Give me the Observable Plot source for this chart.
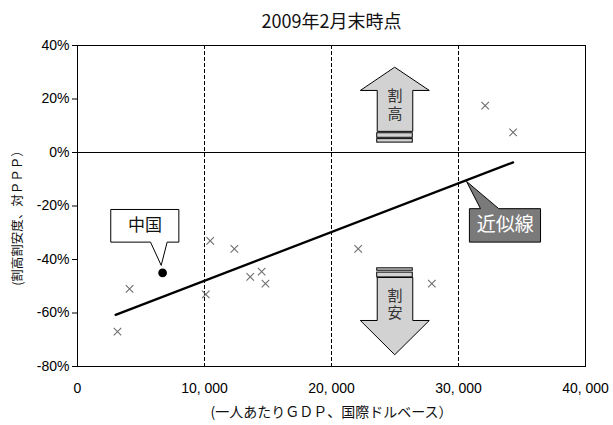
<!DOCTYPE html>
<html>
<head>
<meta charset="utf-8">
<script src="https://cdn.jsdelivr.net/npm/d3@7"></script>
<script src="https://cdn.jsdelivr.net/npm/@observablehq/plot@0.6"></script>
<style>
  body { margin: 0; background: #fff; }
  #chart svg { display: block; }
  #chart text.vertical { writing-mode: vertical-rl; letter-spacing: 2.5px; }
</style>
</head>
<body>
<div id="chart"></div>
<script>
// 一人あたりGDP(国際ドル) と 対PPPでの割高・割安度(%)
const countryGdp = [3150, 4100, 10100, 10450, 12350, 13600, 14500, 14800, 22100, 27900, 32100, 34300];
const countryValuation = [-67, -51, -53, -33, -36, -46.5, -44.5, -49, -36, -49, 17.5, 7.5];

// 中国
const chinaGdp = [6700];
const chinaValuation = [-45];

// 近似線の両端
const trendGdp = [3000, 34300];
const trendValuation = [-60.7, -3.7];

// 軸の目盛り
const xTicks = [0, 10000, 20000, 30000, 40000];
const yTicks = [-80, -60, -40, -20, 0, 20, 40];
const gridX = [10000, 20000, 30000];

// テキスト
const titleText = "2009年2月末時点";
const xLabel = "(一人あたりＧＤＰ、国際ドルベース）";
const yLabel = "(割高割安度、対ＰＰＰ）";
const chinaLabel = "中国";
const trendLabel = "近似線";
const upLabel = "割高";
const downLabel = "割安";

// 矢印と吹き出しの形 (データ座標: x=ドル, y=%)
const upArrow = [[25000, 31.8], [27700, 23.2], [26400, 23.2], [26400, 7.9], [23600, 7.9], [23600, 23.2], [22300, 23.2]];
const upBars = [[7.2, 5.5], [5.0, 3.7]];
const downArrow = [[25000, -75.5], [27700, -62.8], [26400, -62.8], [26400, -46.7], [23600, -46.7], [23600, -62.8], [22300, -62.8]];
const downBars = [[-43.3, -44.2], [-44.9, -46.7]];
const chinaCallout = [[2650, -21.3], [7980, -21.3], [7980, -33.5], [7060, -33.5], [6590, -42.2], [5750, -33.5], [2650, -33.5]];
const trendCallout = [[30890, -21.0], [31730, -21.0], [30630, -10.8], [33170, -21.0], [36460, -21.0], [36460, -33.5], [30890, -33.5]];

const points = countryGdp.map((g, i) => ({gdp: g, val: countryValuation[i]}));
const china = chinaGdp.map((g, i) => ({gdp: g, val: chinaValuation[i]}));
const trend = trendGdp.map((g, i) => ({gdp: g, val: trendValuation[i]}));
const toXY = (arr) => arr.map(([x, y]) => ({x, y}));

const jp = "'Noto Sans CJK JP', sans-serif";
const fmtX = d => d === 0 ? "0" : d3.format(",")(d).replace(",", ", ");

const chart = Plot.plot({
  width: 613,
  height: 425,
  marginLeft: 77,
  marginRight: 28,
  marginTop: 45,
  marginBottom: 59,
  style: {fontFamily: "'Liberation Sans', Arial, sans-serif", fontSize: "14px", color: "#000", background: "#fff"},
  x: {domain: [0, 40000], ticks: xTicks, tickFormat: fmtX, tickSize: 0, tickPadding: 17, label: null},
  y: {domain: [-80, 40], ticks: yTicks, tickFormat: d => d + "%", tickSize: 5, tickPadding: 3, label: null},
  marks: [
    Plot.ruleX(gridX, {stroke: "black", strokeDasharray: "4,2", strokeWidth: 1}),
    Plot.ruleY([0], {stroke: "black", strokeWidth: 1}),
    Plot.frame({stroke: "black", strokeWidth: 1}),
    // 割高の矢印
    Plot.line(toXY(upArrow), {x: "x", y: "y", curve: "linear-closed", fill: "#d2d2d2", stroke: "black", strokeWidth: 1}),
    Plot.rect(upBars, {x1: 23600, x2: 26400, y1: d => d[0], y2: d => d[1], fill: "#d2d2d2", stroke: "black", strokeWidth: 1}),
    Plot.text([upLabel], {x: 25000, y: 17.8, dy: -4, fontFamily: jp, fontSize: 15, fill: "#333"}),
    // 割安の矢印
    Plot.line(toXY(downArrow), {x: "x", y: "y", curve: "linear-closed", fill: "#d2d2d2", stroke: "black", strokeWidth: 1}),
    Plot.rect(downBars, {x1: 23600, x2: 26400, y1: d => d[0], y2: d => d[1], fill: "#d2d2d2", stroke: "black", strokeWidth: 1}),
    Plot.text([downLabel], {x: 25000, y: -56.8, dy: -4, fontFamily: jp, fontSize: 15, fill: "#333"}),
    // 各国
    Plot.dot(points, {x: "gdp", y: "val", symbol: "times", r: 3.5, stroke: "#6e6e6e", strokeWidth: 1.1}),
    // 近似線
    Plot.line(trend, {x: "gdp", y: "val", stroke: "black", strokeWidth: 2.3}),
    // 中国
    Plot.dot(china, {x: "gdp", y: "val", r: 3.6, fill: "black", stroke: "black"}),
    Plot.line(toXY(chinaCallout), {x: "x", y: "y", curve: "linear-closed", fill: "white", stroke: "black", strokeWidth: 1}),
    Plot.text([chinaLabel], {x: 5315, y: -27.4, fontFamily: jp, fontSize: 17, fill: "#111"}),
    Plot.line(toXY(trendCallout), {x: "x", y: "y", curve: "linear-closed", fill: "#7a7a7a", stroke: "black", strokeWidth: 1}),
    Plot.text([trendLabel], {x: 33675, y: -27.2, fontFamily: jp, fontSize: 19, fill: "white"}),
    // タイトルと軸ラベル
    Plot.text([titleText], {frameAnchor: "top", dy: -23, lineAnchor: "middle", fontFamily: jp, fontSize: 18, fill: "#111"}),
    Plot.text([xLabel], {frameAnchor: "bottom", dy: 46, lineAnchor: "middle", fontFamily: jp, fontSize: 14, fill: "#111"}),
    Plot.text([yLabel], {frameAnchor: "left", dx: -60, dy: 9, rotate: -90, textAnchor: "middle", lineAnchor: "middle", fontFamily: jp, fontSize: 12.5, fill: "#111"})
  ]
});

// 矢印の中の文字は縦書きにする
d3.select(chart).selectAll("text")
  .filter(function() { return this.textContent === upLabel || this.textContent === downLabel; })
  .classed("vertical", true);

document.getElementById("chart").appendChild(chart);
</script>
</body>
</html>
